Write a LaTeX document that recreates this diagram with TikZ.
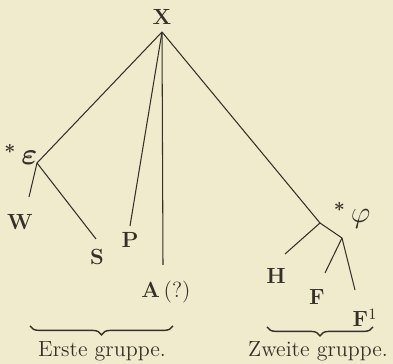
\documentclass[tikz,border=0pt]{standalone}
\usepackage{amsmath}
\usetikzlibrary{decorations.pathreplacing}
\definecolor{paper}{RGB}{241,235,206}
\definecolor{ink}{RGB}{52,48,40}

\begin{document}
\begin{tikzpicture}[
  x=0.02cm, y=-0.02cm,
  font=\fontsize{12.5}{14}\selectfont,
  leaf/.style={
    font=\fontsize{12.5}{14}\selectfont\bfseries,
    text=ink, inner sep=1pt
  },
  asterlabel/.style={
    font=\fontsize{16}{18}\selectfont,
    text=ink, inner sep=1pt
  },
  stem/.style={draw=ink, line width=0.6pt},
  grpbrace/.style={
    draw=ink, line width=0.8pt, decorate,
    decoration={brace, mirror, amplitude=5pt}
  },
  grplabel/.style={text=ink}
]

% Paper and frame
\fill[paper] (0,0) rectangle (393,364);
\useasboundingbox (0,0) rectangle (393,364);

% Root
\node[leaf] (X) at (162,17) {X};
\coordinate (top) at (162,32);

% ===== Erste gruppe =====
\coordinate (eps) at (37,163);
\node[asterlabel] (epslab) at (21,154) {$^{\boldsymbol{*}}\,\boldsymbol{\varepsilon}$};
\node[leaf] (W) at (20,222) {W};
\node[leaf] (S) at (97,257) {S};
\node[leaf] (P) at (130,240) {P};
\node[leaf] (A) at (166,292) {A\,{\mdseries(?)}};
\coordinate (W-end) at (29,197);
\coordinate (S-end) at (96,239);
\coordinate (P-end) at (130,226);
\coordinate (A-end) at (163,265);

\draw[stem] (top) -- (eps);
\draw[stem] (eps) -- (W-end);
\draw[stem] (eps) -- (S-end);
\draw[stem] (top) -- (P-end);
\draw[stem] (top) -- (A-end);

% ===== Zweite gruppe =====
\coordinate (phi) at (320,223);
\coordinate (phi2) at (342,238);
\node[asterlabel] (philab) at (352,215) {$^{\boldsymbol{*}}\,\varphi$};
\node[leaf] (H) at (276,276) {H};
\node[leaf] (F) at (317,297) {F};
\node[leaf] (F1) at (365,318) {F$^{1}$};
\coordinate (H-end) at (285,254);
\coordinate (F-end) at (325,273);
\coordinate (F1-end) at (355,290);

\draw[stem] (top) -- (phi);
\draw[stem] (phi) -- (H-end);
\draw[stem] (phi) -- (phi2);
\draw[stem] (phi2) -- (F-end);
\draw[stem] (phi2) -- (F1-end);

% Braces and group names
\coordinate (b1l) at (30,326);
\coordinate (b1r) at (173,326);
\coordinate (b2l) at (267,327);
\coordinate (b2r) at (373,327);
\draw[grpbrace] (b1l) -- (b1r);
\draw[grpbrace] (b2l) -- (b2r);
\node[grplabel] (g1) at (102,351) {Erste gruppe.};
\node[grplabel] (g2) at (318,351) {Zweite gruppe.};

\end{tikzpicture}
\end{document}
